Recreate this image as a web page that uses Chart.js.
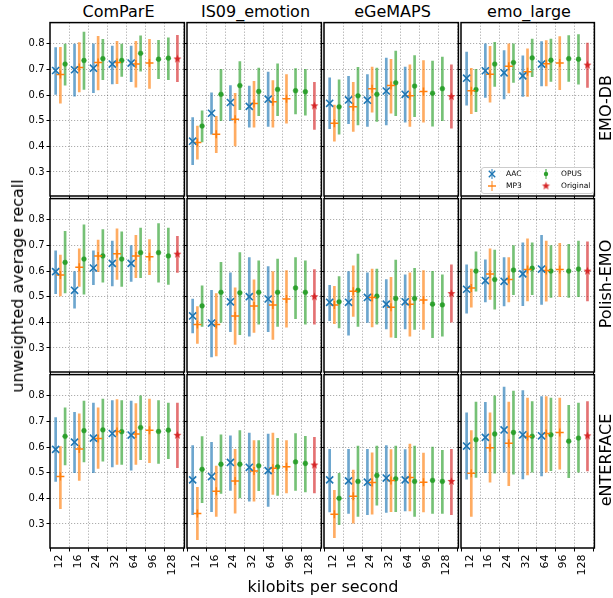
<!DOCTYPE html>
<html><head><meta charset="utf-8">
<script src="https://cdn.jsdelivr.net/npm/chart.js@4.4.0/dist/chart.umd.min.js"></script>
<style>
html,body{margin:0;padding:0;background:#fff;}
#root{position:relative;width:613px;height:598px;overflow:hidden;font-family:'DejaVu Sans',sans-serif;background:#fff;}
#root canvas{position:absolute;}
.t{position:absolute;font-size:16px;line-height:16px;white-space:nowrap;color:#000;}
.lg{position:absolute;font-size:7.5px;line-height:8px;white-space:nowrap;color:#000;}
</style></head><body><div id="root"></div>
<script>
// ---------------- data ----------------
const BITRATES = ['12','16','24','32','64','96','128'];
const FEATURES = ['ComParE','IS09_emotion','eGeMAPS','emo_large'];
const CORPORA = ['EMO-DB','Polish-EMO','eNTERFACE'];
const Y_TICKS = [0.3,0.4,0.5,0.6,0.7,0.8];
const CODECS = ['AAC','MP3','OPUS','Original'];

// each point: [mean, lower, upper]; rows = features (ComParE, IS09_emotion, eGeMAPS, emo_large)
const aacEmoDb = [
 [[.696,.603,.785],[.699,.596,.799],[.705,.609,.80],[.721,.644,.791],[.725,.652,.791]],
 [[.42,.328,.512],[.529,.447,.609],[.571,.50,.637],[.556,.475,.635],[.584,.478,.69]],
 [[.568,.469,.667],[.581,.488,.673],[.58,.478,.68],[.616,.484,.744],[.603,.494,.709]],
 [[.666,.561,.768],[.695,.591,.80],[.687,.585,.774],[.675,.595,.753],[.721,.636,.809]]
];
const mp3EmoDb = [
 [[.68,.568,.786],[.708,.612,.805],[.727,.62,.829],[.727,.645,.81],[.721,.631,.81],[.725,.626,.818]],
 [[.415,.35,.479],[.447,.375,.517],[.506,.402,.607],[.567,.475,.654],[.574,.475,.657],[.586,.49,.68]],
 [[.49,.42,.561],[.554,.458,.65],[.625,.533,.709],[.637,.529,.74],[.597,.478,.718],[.614,.494,.735]],
 [[.617,.527,.704],[.681,.572,.79],[.713,.608,.80],[.691,.595,.781],[.722,.636,.813],[.725,.621,.828]]
];
const opusEmoDb = [
 [[.721,.639,.799],[.735,.622,.846],[.742,.66,.818],[.735,.673,.799],[.763,.693,.831],[.74,.664,.814],[.744,.66,.824]],
 [[.479,.417,.539],[.603,.50,.701],[.637,.543,.731],[.614,.52,.705],[.622,.52,.722],[.617,.526,.703],[.613,.522,.701]],
 [[.554,.447,.66],[.597,.484,.708],[.603,.497,.705],[.648,.52,.772],[.635,.516,.754],[.607,.479,.733],[.625,.50,.748]],
 [[.621,.535,.701],[.721,.634,.806],[.727,.649,.80],[.745,.672,.819],[.736,.653,.819],[.742,.653,.832],[.74,.643,.836]]
];
const origEmoDb = [[.741,.652,.833],[.558,.466,.65],[.594,.471,.718],[.717,.63,.803]];

const aacPolish = [
 [[.598,.512,.679],[.525,.455,.598],[.612,.547,.679],[.63,.542,.717],[.63,.56,.70]],
 [[.425,.359,.491],[.397,.265,.525],[.48,.363,.593],[.50,.346,.653],[.491,.363,.618]],
 [[.478,.406,.544],[.478,.35,.598],[.497,.40,.593],[.471,.374,.567],[.48,.374,.585]],
 [[.529,.436,.624],[.563,.48,.644],[.56,.464,.653],[.589,.465,.71],[.608,.47,.74]]
];
const mp3Polish = [
 [[.585,.503,.662],[.615,.54,.687],[.659,.598,.721],[.668,.567,.765],[.659,.574,.74],[.656,.586,.723]],
 [[.391,.318,.461],[.391,.269,.512],[.425,.314,.535],[.464,.361,.566],[.468,.333,.598],[.491,.381,.602]],
 [[.468,.395,.54],[.521,.423,.621],[.497,.382,.608],[.459,.342,.576],[.471,.346,.593],[.487,.372,.602]],
 [[.534,.459,.608],[.589,.489,.687],[.567,.48,.653],[.606,.484,.726],[.602,.483,.717],[.606,.50,.708]]
];
const opusPolish = [
 [[.634,.515,.755],[.647,.51,.781],[.659,.557,.762],[.647,.54,.753],[.672,.574,.768],[.672,.557,.785],[.659,.548,.768]],
 [[.464,.384,.542],[.517,.40,.634],[.515,.352,.672],[.517,.393,.64],[.517,.384,.647],[.534,.414,.653],[.517,.393,.64]],
 [[.48,.378,.579],[.525,.384,.666],[.502,.393,.608],[.493,.34,.643],[.493,.372,.611],[.471,.34,.599],[.468,.346,.585]],
 [[.60,.522,.675],[.567,.451,.682],[.604,.508,.70],[.611,.508,.71],[.60,.497,.70],[.60,.497,.704],[.608,.50,.717]]
];
const origPolish = [[.666,.595,.736],[.50,.393,.606],[.512,.401,.624],[.60,.484,.714]];

const aacEnt = [
 [[.591,.466,.715],[.619,.50,.736],[.635,.50,.772],[.653,.523,.782],[.647,.51,.78]],
 [[.472,.336,.606],[.485,.348,.619],[.54,.431,.644],[.521,.389,.655],[.508,.368,.651]],
 [[.472,.347,.591],[.468,.341,.591],[.463,.336,.591],[.479,.345,.606],[.472,.351,.59]],
 [[.604,.475,.734],[.638,.50,.775],[.667,.502,.834],[.648,.476,.821],[.644,.487,.797]]
];
const mp3Ent = [
 [[.485,.36,.602],[.593,.47,.73],[.634,.517,.753],[.661,.532,.785],[.651,.532,.77],[.666,.539,.787]],
 [[.341,.239,.443],[.428,.329,.526],[.468,.342,.591],[.507,.389,.625],[.517,.415,.655],[.523,.421,.625]],
 [[.338,.246,.431],[.408,.303,.51],[.462,.338,.578],[.47,.348,.59],[.481,.351,.612],[.463,.347,.577]],
 [[.498,.329,.664],[.597,.463,.734],[.615,.449,.776],[.641,.491,.791],[.653,.502,.797],[.657,.514,.791]]
];
const opusEnt = [
 [[.642,.53,.753],[.664,.542,.78],[.667,.545,.787],[.66,.532,.782],[.676,.551,.80],[.661,.536,.782],[.666,.555,.772]],
 [[.513,.383,.641],[.533,.419,.648],[.533,.402,.664],[.527,.43,.625],[.523,.411,.634],[.542,.431,.653],[.536,.425,.642]],
 [[.40,.297,.498],[.466,.329,.604],[.489,.373,.604],[.476,.348,.604],[.466,.329,.604],[.47,.341,.60],[.466,.341,.587]],
 [[.629,.482,.776],[.651,.498,.80],[.657,.494,.819],[.642,.502,.778],[.648,.508,.791],[.623,.481,.763],[.635,.502,.772]]
];
const origEnt = [[.646,.52,.772],[.53,.421,.638],[.466,.336,.591],[.644,.507,.778]];

// ---------------- tables built from the arrays ----------------
const SERIES = {
  AAC: [aacEmoDb, aacPolish, aacEnt],
  MP3: [mp3EmoDb, mp3Polish, mp3Ent],
  OPUS: [opusEmoDb, opusPolish, opusEnt],
  Original: [origEmoDb, origPolish, origEnt]
};

// ---------------- styles / layout ----------------
function makeStar(color, R, r) {
  const s = Math.ceil(2 * R + 2);
  const cv = document.createElement('canvas'); cv.width = cv.height = s;
  const g = cv.getContext('2d'); g.fillStyle = color; g.beginPath();
  for (let i = 0; i < 10; i++) {
    const a = -Math.PI / 2 + i * Math.PI / 5, rr = i % 2 ? r : R;
    g.lineTo(s / 2 + rr * Math.cos(a), s / 2 + rr * Math.sin(a));
  }
  g.closePath(); g.fill(); return cv;
}
const STYLE = {
  AAC: {color:'#1f77b4', pointStyle:'crossRot', radius:5, borderWidth:1.6},
  MP3: {color:'#ff7f0e', pointStyle:'cross', radius:4, borderWidth:1.5},
  OPUS: {color:'#2ca02c', pointStyle:'circle', radius:2.4, borderWidth:0.5},
  Original: {color:'#d62728', pointStyle:makeStar('#d62728', 4.2, 1.8), radius:4, borderWidth:1}
};
function alpha(hex, a) {
  const n = parseInt(hex.slice(1), 16);
  return `rgba(${n >> 16},${(n >> 8) & 255},${n & 255},${a})`;
}
const BAR_ALPHA = 0.65;
const GRID = 'rgba(0,0,0,0.32)';
const FONT_Y = {family:'DejaVu Sans', size:10};
const FONT_X = {family:'DejaVu Sans', size:11};
const COL_LEFT = [50, 187, 324, 461], COL_W = [137, 137, 137, 136];
const ROW_TOP = [20, 196, 372], ROW_H = 176;
const X_MIN = -0.05, X_MAX = 7.07, Y_MIN = 0.206, Y_MAX = 0.883;
const LABEL_SHIFT = 0.42;
const OFFSETS = {3:[0.25,0.5,0.75], 2:[0.22,0.7], 1:[0.5]};

function seriesRows(name, r, c) {
  return name === 'Original' ? [SERIES.Original[r][c]] : SERIES[name][r][c];
}
function groupMembers(r, c, k) {
  const m = [];
  ['AAC','MP3','OPUS'].forEach(n => { if (k < SERIES[n][r][c].length) m.push(n); });
  if (k === BITRATES.length - 1) m.push('Original');
  return m;
}
function xOf(r, c, name, k) {
  const m = groupMembers(r, c, k);
  return k + OFFSETS[m.length][m.indexOf(name)];
}
const isInt = v => Math.abs(v - Math.round(v)) < 1e-6;
const X_TICKS = [];
for (let i = 0; i <= BITRATES.length; i++) X_TICKS.push(i);
BITRATES.forEach((b, k) => X_TICKS.push(k + LABEL_SHIFT));
X_TICKS.sort((a, b) => a - b);

function datasetsFor(r, c) {
  const ds = [];
  CODECS.forEach(name => {
    const rows = seriesRows(name, r, c);
    const ks = name === 'Original' ? [BITRATES.length - 1] : rows.map((_, k) => k);
    const st = STYLE[name];
    ds.push({
      type:'scatter', label:name,
      data: rows.map((v, i) => ({x: xOf(r, c, name, ks[i]), y: v[0]})),
      pointStyle: st.pointStyle, pointRadius: st.radius, pointHoverRadius: st.radius,
      borderColor: st.color, backgroundColor: st.color, borderWidth: st.borderWidth, order: 0
    });
    ds.push({
      type:'bar', label:name + ' range',
      data: rows.map((v, i) => ({x: xOf(r, c, name, ks[i]), y: [v[1], v[2]]})),
      backgroundColor: alpha(st.color, BAR_ALPHA), borderWidth: 0,
      barThickness: 2, grouped: false, order: 1
    });
  });
  return ds;
}

const framePlugin = {
  id:'frame',
  beforeDraw(chart) {
    const a = chart.chartArea, g = chart.ctx;
    g.save(); g.fillStyle = '#fff'; g.fillRect(a.left, a.top, a.right - a.left, a.bottom - a.top); g.restore();
  },
  afterDraw(chart) {
    const a = chart.chartArea, g = chart.ctx;
    g.save(); g.strokeStyle = '#000'; g.lineWidth = 1.5;
    g.strokeRect(a.left, a.top, a.right - a.left, a.bottom - a.top); g.restore();
  }
};

const root = document.getElementById('root');
function addText(txt, cls, css) {
  const d = document.createElement('div'); d.className = cls; d.textContent = txt;
  Object.assign(d.style, css); root.appendChild(d); return d;
}

// titles (behind the plot areas)
FEATURES.forEach((f, c) => {
  addText(f, 't', {left:(COL_LEFT[c] + COL_W[c] / 2) + 'px', top:'4.2px', transform:'translateX(-50%)'});
});

for (let r = 0; r < CORPORA.length; r++) {
  for (let c = 0; c < FEATURES.length; c++) {
    const L = c === 0 ? 50 : 8, B = r === CORPORA.length - 1 ? 50 : 8, T = 4, R = 4;
    const cv = document.createElement('canvas');
    const W = L + COL_W[c] + R, H = T + ROW_H + B;
    cv.width = W; cv.height = H;
    cv.style.left = (COL_LEFT[c] - L) + 'px'; cv.style.top = (ROW_TOP[r] - T) + 'px';
    cv.style.width = W + 'px'; cv.style.height = H + 'px';
    root.appendChild(cv);
    new Chart(cv, {
      type:'scatter',
      data:{datasets: datasetsFor(r, c)},
      options:{
        responsive:false, animation:false, devicePixelRatio:1, events:[],
        layout:{padding:{top:T, right:R, left:0, bottom:0}},
        plugins:{legend:{display:false}, tooltip:{enabled:false}},
        scales:{
          x:{
            type:'linear', min:X_MIN, max:X_MAX, offset:false,
            afterBuildTicks: s => { s.ticks = X_TICKS.map(v => ({value:v})); },
            afterFit: s => { s.height = B; s.paddingLeft = 0; s.paddingRight = 0; },
            ticks:{
              display: r === CORPORA.length - 1, autoSkip:false, minRotation:90, maxRotation:90,
              padding:3, color:'#000', font:FONT_X,
              callback: v => {
                const k = Math.round(v - LABEL_SHIFT);
                return (!isInt(v) && k >= 0 && k < BITRATES.length) ? BITRATES[k] : '';
              }
            },
            grid:{
              offset:false, lineWidth:1, tickLength:3.5, tickWidth:1, tickBorderDash:[],
              color: ctx => (ctx.tick && isInt(ctx.tick.value) && ctx.tick.value > 0.5) ? GRID : 'rgba(0,0,0,0)',
              tickColor: ctx => (ctx.tick && isInt(ctx.tick.value)) ? '#000' : 'rgba(0,0,0,0)'
            },
            border:{display:false, dash:[1.2,1.8]}
          },
          y:{
            type:'linear', min:Y_MIN, max:Y_MAX, offset:false,
            afterBuildTicks: s => { s.ticks = Y_TICKS.map(v => ({value:v})); },
            afterFit: s => { s.width = L; s.paddingTop = 0; s.paddingBottom = 0; },
            ticks:{display: c === 0, padding:2, color:'#000', font:FONT_Y, callback: v => v.toFixed(1)},
            grid:{lineWidth:1, color:GRID, tickLength:3.5, tickWidth:1, tickColor:'#000', tickBorderDash:[]},
            border:{display:false, dash:[1.2,1.8]}
          }
        }
      },
      plugins:[framePlugin]
    });
  }
}

// axis labels
addText('unweighted average recall', 't', {left:'18px', top:'286px', transform:'translate(-50%,-50%) rotate(-90deg)'});
addText('kilobits per second', 't', {left:'323px', top:'579.2px', transform:'translateX(-50%)'});
CORPORA.forEach((name, r) => {
  addText(name, 't', {left:'606px', top:(ROW_TOP[r] + ROW_H / 2) + 'px', transform:'translate(-50%,-50%) rotate(-90deg)'});
});

// legend
const lg = document.createElement('div');
Object.assign(lg.style, {position:'absolute', left:'481px', top:'167px', width:'111px', height:'25px',
  border:'1px solid #cccccc', borderRadius:'3px', background:'rgba(255,255,255,0.85)'});
root.appendChild(lg);
function legendIcon(name) {
  const cv = document.createElement('canvas'); cv.width = 12; cv.height = 14;
  const g = cv.getContext('2d'), st = STYLE[name], cx = 6, cy = 7;
  if (name !== 'Original') {
    g.strokeStyle = alpha(st.color, BAR_ALPHA); g.lineWidth = 1.5;
    g.beginPath(); g.moveTo(cx, cy - 5); g.lineTo(cx, cy + 5); g.stroke();
  }
  g.strokeStyle = st.color; g.fillStyle = st.color; g.lineWidth = 1.4;
  if (name === 'AAC') {
    g.beginPath(); g.moveTo(cx - 3.2, cy - 3.2); g.lineTo(cx + 3.2, cy + 3.2);
    g.moveTo(cx - 3.2, cy + 3.2); g.lineTo(cx + 3.2, cy - 3.2); g.stroke();
  } else if (name === 'MP3') {
    g.beginPath(); g.moveTo(cx - 4, cy); g.lineTo(cx + 4, cy); g.stroke();
  } else if (name === 'OPUS') {
    g.beginPath(); g.arc(cx, cy, 2.2, 0, Math.PI * 2); g.fill();
  } else {
    g.drawImage(st.pointStyle, cx - st.pointStyle.width / 2, cy - st.pointStyle.height / 2);
  }
  return cv;
}
const LEGEND_ITEMS = [['AAC', 4, -1, 24, 2], ['OPUS', 58, -1, 79, 2], ['MP3', 4, 10.5, 24, 13.5], ['Original', 58, 10.5, 79, 13.5]];
LEGEND_ITEMS.forEach(([name, ix, iy, tx, ty]) => {
  const ic = legendIcon(name);
  Object.assign(ic.style, {position:'absolute', left:ix + 'px', top:iy + 'px'});
  lg.appendChild(ic);
  const t = document.createElement('div'); t.className = 'lg'; t.textContent = name;
  Object.assign(t.style, {left:tx + 'px', top:ty + 'px'});
  lg.appendChild(t);
});
</script></body></html>
